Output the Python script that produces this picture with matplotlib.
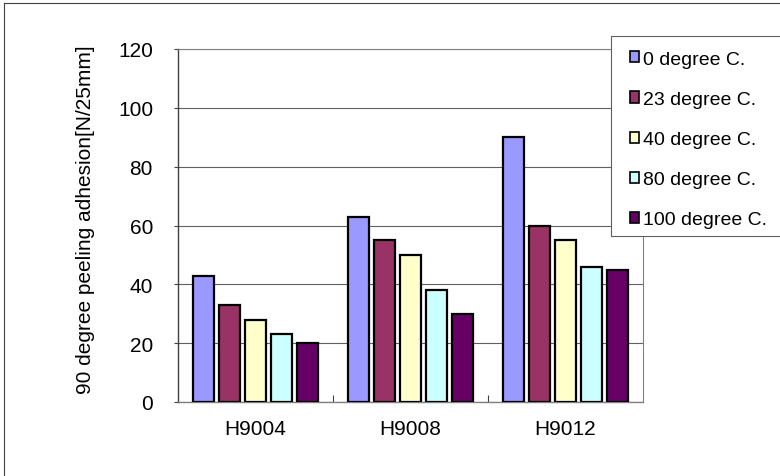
import numpy as np
import matplotlib
matplotlib.use('Agg')
import matplotlib.pyplot as plt
from matplotlib.patches import Patch, Rectangle
from matplotlib.lines import Line2D

plt.rcParams['font.family'] = ['Liberation Sans', 'DejaVu Sans']

categories = ['H9004', 'H9008', 'H9012']
series_names = ['0 degree C.', '23 degree C.', '40 degree C.', '80 degree C.', '100 degree C.']
values = [
    [43, 63, 90],   # 0 degree C.
    [33, 55, 60],   # 23 degree C.
    [28, 50, 55],   # 40 degree C.
    [23, 38, 46],   # 80 degree C.
    [20, 30, 45],   # 100 degree C.
]
colors = ['#9999FF', '#993366', '#FFFFCC', '#CCFFFF', '#660066']
yticks = [0, 20, 40, 60, 80, 100, 120]

W, H = 780, 477
fig = plt.figure(figsize=(W / 100, H / 100), dpi=100)
ax = fig.add_axes([178 / W, 1 - 403 / H, (643 - 178) / W, (403 - 50) / H])

x = np.arange(len(categories))
pitch = 0.168
width = 0.134
for i in range(len(series_names)):
    ax.bar(x + (i - 2) * pitch, values[i], width=width, color=colors[i],
           edgecolor='black', linewidth=1.6, zorder=3)

ax.set_xlim(-0.5, len(categories) - 0.5)
ax.set_ylim(0, 120)
ax.set_yticks(yticks)
ax.set_yticklabels([str(t) for t in yticks], fontsize=15)
ax.set_xticks(x)
ax.set_xticklabels(categories, fontsize=15)
ax.set_xticks(x[:-1] + 0.5, minor=True)
ax.tick_params(axis='x', which='major', length=0, pad=12)
ax.tick_params(axis='x', which='minor', direction='in', length=5, width=0.8, color='#404040')
ax.tick_params(axis='y', which='major', direction='out', length=3, width=0.8,
               color='#404040', pad=15)
ax.yaxis.grid(True, color='#606060', linewidth=0.8, zorder=0)
ax.set_axisbelow(True)

for side in ['top', 'right']:
    ax.spines[side].set_color('#808080')
    ax.spines[side].set_linewidth(0.8)
ax.spines['left'].set_color('#404040')
ax.spines['left'].set_linewidth(1.0)
ax.spines['bottom'].set_color('#808080')
ax.spines['bottom'].set_linewidth(1.0)

fig.text(86 / W, 1 - 220 / H, '90 degree peeling adhesion[N/25mm]',
         rotation=90, ha='center', va='center', fontsize=15)

# legend box: open on the right, it runs past the edge in the source
lx0, ly0, ly1 = 611 / W, 1 - 237 / H, 1 - 37 / H
fig.add_artist(Rectangle((lx0, ly0), 1 - lx0, ly1 - ly0, transform=fig.transFigure,
                         facecolor='white', edgecolor='none', zorder=5))
fig.add_artist(Line2D([1.0, lx0, lx0, 1.0], [ly1, ly1, ly0, ly0],
                      transform=fig.transFigure, color='#606060',
                      linewidth=0.8, zorder=5))
handles = [Patch(facecolor=c, edgecolor='black', linewidth=1.2) for c in colors]
leg = fig.legend(handles, series_names, loc='upper left',
                 bbox_to_anchor=(620 / W, 1 - 42 / H), frameon=False,
                 fontsize=14, handlelength=0.5, handleheight=0.5,
                 handletextpad=0.2, labelspacing=1.19, borderpad=0)
leg.set_zorder(6)

# outer chart border (only top and left fall inside the picture)
bx, by = 4 / W, 1 - 3.5 / H
fig.add_artist(Line2D([bx, bx, 1.0], [0.0, by, by], transform=fig.transFigure,
                      color='#404040', linewidth=0.8))

fig.savefig('out.png', dpi=100)
